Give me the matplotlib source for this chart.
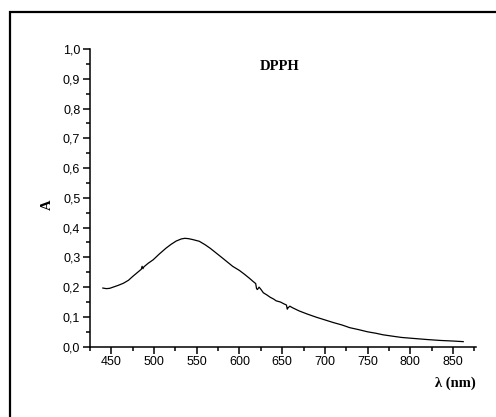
import matplotlib
matplotlib.use("Agg")
import matplotlib.pyplot as plt
from matplotlib.patches import Rectangle
from matplotlib.ticker import MultipleLocator, FuncFormatter

# wavelength (nm) and absorbance
wavelength = [440, 444, 448, 452, 458, 464, 470, 475, 480, 485, 486, 487, 488,
              493, 499, 506, 514, 520, 526, 532, 536, 540, 545, 553, 560, 566,
              573, 580, 586, 592, 600, 606, 612, 616, 619, 620, 621, 623, 625,
              628, 632, 636, 640, 643, 648, 652, 655, 656, 657, 659, 662, 670,
              680, 690, 700, 710, 720, 729, 740, 750, 760, 768, 780, 790, 807,
              820, 835, 850, 862]
absorb = [0.197, 0.195, 0.196, 0.200, 0.206, 0.213, 0.223, 0.236, 0.248, 0.260,
          0.270, 0.262, 0.268, 0.280, 0.292, 0.311, 0.331, 0.344, 0.355, 0.362,
          0.364, 0.363, 0.360, 0.354, 0.342, 0.330, 0.314, 0.298, 0.284, 0.270,
          0.256, 0.243, 0.229, 0.219, 0.212, 0.195, 0.192, 0.200, 0.193, 0.181,
          0.174, 0.166, 0.160, 0.154, 0.150, 0.144, 0.140, 0.126, 0.131, 0.136,
          0.131, 0.120, 0.109, 0.099, 0.090, 0.081, 0.073, 0.064, 0.057, 0.050,
          0.045, 0.040, 0.035, 0.031, 0.027, 0.024, 0.021, 0.019, 0.017]

plt.rcParams['font.family'] = 'Liberation Sans'

fig = plt.figure(figsize=(4.96, 4.17), dpi=100)
ax = fig.add_axes([0.1815, 0.1686, 0.7782, 0.714])

# outer frame (only top and left edges fall inside the picture)
fig.patches.append(Rectangle((0.02, -0.2), 1.5, 1.171, transform=fig.transFigure,
                             fill=False, edgecolor='black', linewidth=1.6))

ax.plot(wavelength, absorb, color='black', linewidth=0.9)

ax.set_xlim(425, 877)
ax.set_ylim(0, 1.0)
ax.xaxis.set_major_locator(MultipleLocator(50))
ax.xaxis.set_minor_locator(MultipleLocator(25))
ax.yaxis.set_major_locator(MultipleLocator(0.1))
ax.yaxis.set_minor_locator(MultipleLocator(0.05))
ax.set_xticks(range(450, 851, 50))
ax.yaxis.set_major_formatter(FuncFormatter(lambda v, p: f"{v:.1f}".replace('.', ',')))

for s in ['top', 'right']:
    ax.spines[s].set_visible(False)
for s in ['left', 'bottom']:
    ax.spines[s].set_linewidth(1.1)

ax.tick_params(which='major', direction='out', length=5, width=1.1, labelsize=9, pad=2)
ax.tick_params(which='minor', direction='out', length=3, width=1.1)

ax.text(0.946, -0.122, 'λ (nm)', transform=ax.transAxes, ha='center', va='center',
        family='Liberation Serif', fontweight='bold', fontsize=10.5)
ax.text(-0.111, 0.476, 'A', transform=ax.transAxes, ha='center', va='center',
        rotation=90, family='Liberation Serif', fontweight='bold', fontsize=10.5)
ax.text(0.492, 0.94, 'DPPH', transform=ax.transAxes, ha='center', va='center',
        family='Liberation Serif', fontweight='bold', fontsize=10.5)

fig.savefig('out.png', dpi=100)
